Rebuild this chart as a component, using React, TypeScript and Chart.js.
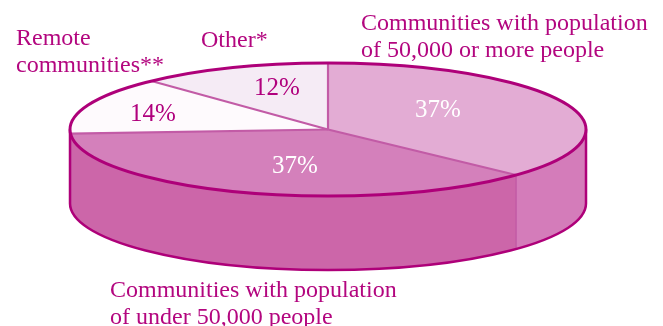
import React, { useEffect, useRef } from "react";
import Chart from "chart.js/auto";

const categories = [
  "Communities with population\nof 50,000 or more people",
  "Communities with population\nof under 50,000 people",
  "Remote\ncommunities**",
  "Other*",
];
const shares = [37, 37, 14, 12];

const topColors = ["#e3acd4", "#d480bb", "#fefafd", "#f5ebf5"];
const wallColors = ["#d47cba", "#cc66a9", "#cc66a9", "#cc66a9"];
const percentColors = ["#ffffff", "#ffffff", "#b0007d", "#b0007d"];

const RIM = "#ae0079";
const SPOKE = "#c25ba6";
const INK = "#b3067f";
const SERIF = '"Liberation Serif", serif';

const RADIUS_X = 258;
const SQUASH = 66.5 / 258;
const DEPTH = 74;

// Anchors for the text: category captions are left aligned, percents centred.
const captionAt = [
  [361, 30],
  [110, 297],
  [16, 45],
  [201, 47],
];
const percentAt = [
  [438, 117],
  [295, 173],
  [153, 121],
  [277, 95],
];

const pie3d = {
  id: "pie3d",
  beforeDatasetsDraw(chart: any) {
    const { ctx } = chart;
    const arcs = chart.getDatasetMeta(0).data;
    const { x: cx, y: cy } = arcs[0];
    const ry = RADIUS_X * SQUASH;

    // Front wall: only the part of each slice facing the viewer.
    arcs.forEach((arc: any, i: number) => {
      let a0 = arc.startAngle;
      let a1 = arc.endAngle;
      if (a0 < 0 && a1 < 0) return;
      a0 = Math.max(a0, 0);
      a1 = Math.min(a1, Math.PI);
      if (a1 <= a0) return;
      ctx.beginPath();
      ctx.ellipse(cx, cy, RADIUS_X, ry, 0, a0, a1);
      ctx.ellipse(cx, cy + DEPTH, RADIUS_X, ry, 0, a1, a0, true);
      ctx.closePath();
      ctx.fillStyle = wallColors[i];
      ctx.fill();
    });

    // Seams between wall panels.
    arcs.forEach((arc: any) => {
      const a = arc.startAngle;
      if (a <= 0.02 || a >= Math.PI - 0.02) return;
      const px = cx + RADIUS_X * Math.cos(a);
      const py = cy + ry * Math.sin(a);
      ctx.beginPath();
      ctx.moveTo(px, py);
      ctx.lineTo(px, py + DEPTH);
      ctx.strokeStyle = SPOKE;
      ctx.lineWidth = 1.5;
      ctx.stroke();
    });

    // Lower outline of the drum.
    ctx.beginPath();
    ctx.moveTo(cx - RADIUS_X, cy);
    ctx.ellipse(cx, cy + DEPTH, RADIUS_X, ry, 0, Math.PI, 0, true);
    ctx.lineTo(cx + RADIUS_X, cy);
    ctx.strokeStyle = RIM;
    ctx.lineWidth = 2.5;
    ctx.lineJoin = "round";
    ctx.stroke();

    // Flatten the round pie into the tilted top face.
    ctx.save();
    ctx.translate(0, cy * (1 - SQUASH));
    ctx.scale(1, SQUASH);
  },
  afterDatasetsDraw(chart: any) {
    const { ctx } = chart;
    ctx.restore();
    const arcs = chart.getDatasetMeta(0).data;
    const { x: cx, y: cy } = arcs[0];
    const ry = RADIUS_X * SQUASH;

    arcs.forEach((arc: any) => {
      ctx.beginPath();
      ctx.moveTo(cx, cy);
      ctx.lineTo(
        cx + RADIUS_X * Math.cos(arc.startAngle),
        cy + ry * Math.sin(arc.startAngle)
      );
      ctx.strokeStyle = SPOKE;
      ctx.lineWidth = 2.2;
      ctx.stroke();
    });

    ctx.beginPath();
    ctx.ellipse(cx, cy, RADIUS_X, ry, 0, 0, Math.PI * 2);
    ctx.strokeStyle = RIM;
    ctx.lineWidth = 3;
    ctx.stroke();

    ctx.textBaseline = "alphabetic";
    ctx.font = `24px ${SERIF}`;
    ctx.textAlign = "left";
    ctx.fillStyle = INK;
    categories.forEach((text, i) => {
      text.split("\n").forEach((line, k) => {
        ctx.fillText(line, captionAt[i][0], captionAt[i][1] + k * 26.5);
      });
    });

    ctx.font = `25px ${SERIF}`;
    ctx.textAlign = "center";
    shares.forEach((v, i) => {
      ctx.fillStyle = percentColors[i];
      ctx.fillText(`${v}%`, percentAt[i][0], percentAt[i][1]);
    });
  },
};

export default function App() {
  const ref = useRef<HTMLCanvasElement>(null);

  useEffect(() => {
    document.body.style.margin = "0";
    document.body.style.background = "#ffffff";
    const chart = new Chart(ref.current as HTMLCanvasElement, {
      type: "pie",
      data: {
        labels: categories,
        datasets: [
          {
            data: shares,
            backgroundColor: topColors,
            borderWidth: 0,
            radius: RADIUS_X,
            clip: false,
          } as any,
        ],
      },
      options: {
        responsive: false,
        animation: false,
        layout: { padding: { right: 7, bottom: 67 } },
        plugins: { legend: { display: false }, tooltip: { enabled: false } },
      },
      plugins: [pie3d],
    });
    return () => chart.destroy();
  }, []);

  return <canvas ref={ref} width={663} height={326} style={{ display: "block" }} />;
}
